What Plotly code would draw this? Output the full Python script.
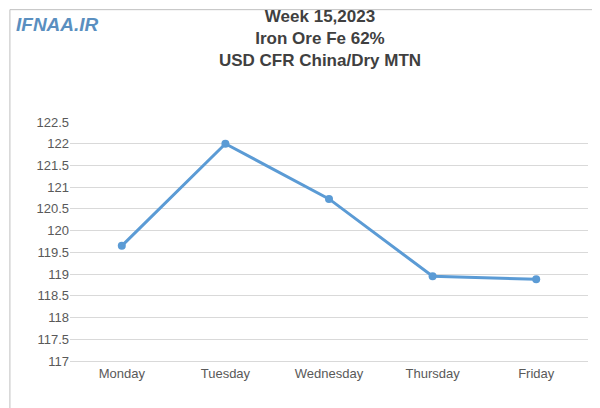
import plotly.graph_objects as go

days = ["Monday", "Tuesday", "Wednesday", "Thursday", "Friday"]
prices = [119.65, 122.0, 120.73, 118.95, 118.88]
yticks = [117 + 0.5 * i for i in range(12)]

fig = go.Figure(go.Scatter(
    x=days, y=prices, mode="lines+markers",
    line=dict(color="#5b9bd5", width=3),
    marker=dict(size=8, color="#5b9bd5"),
))

fig.update_layout(
    width=600, height=408,
    paper_bgcolor="white", plot_bgcolor="white",
    margin=dict(l=62, r=20, t=114, b=55),
    showlegend=False,
    font=dict(family="Liberation Sans, Arial", color="#595959", size=13),
    title=dict(
        text="<b>Week 15,2023</b><br><b>Iron Ore Fe 62%</b><br><b>USD CFR China/Dry MTN</b>",
        x=0.52, xanchor="center", y=0.965, yanchor="top",
        font=dict(size=17, color="#404040", family="Liberation Sans, Arial"),
    ),
    xaxis=dict(showgrid=False, showline=True, linecolor="#d9d9d9",
               range=[-0.5, 4.5], ticks=""),
    yaxis=dict(range=[117, 122.5], tickvals=yticks,
               ticktext=[f"{v:g}" for v in yticks],
               showgrid=True, gridcolor="#d9d9d9", zeroline=False),
    shapes=[dict(type="rect", xref="paper", yref="paper", x0=-0.116, x1=1.033,
                 y0=-0.218, y1=1.47, line=dict(color="#bfbfbf", width=1))],
    annotations=[dict(text="<b><i>IFNAA.IR</i></b>", xref="paper", yref="paper",
                      x=-0.108, y=1.46, xanchor="left", yanchor="top",
                      showarrow=False,
                      font=dict(size=19, color="#5a8fc0"))],
)

fig.write_html("out.html")
